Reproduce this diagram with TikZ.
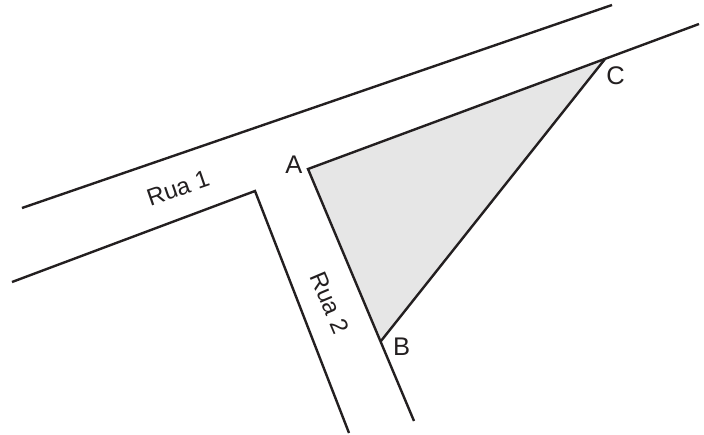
\documentclass[tikz,border=0pt]{standalone}
\usepackage{fontspec}
\setmainfont{Liberation Sans}
\definecolor{ink}{HTML}{231F20}
\definecolor{lot}{HTML}{E6E6E6}
\tikzset{road/.style={draw=ink,line width=2.4pt,line join=miter},
lab/.style={font=\fontsize{24}{28}\selectfont,text=ink,inner sep=0pt},
caplab/.style={font=\fontsize{25.5}{28}\selectfont,text=ink,inner sep=0pt}}
\begin{document}
\begin{tikzpicture}[x=1pt,y=-1pt]
\useasboundingbox (0,0) rectangle (704,434);
\coordinate (A) at (308,169);
\coordinate (B) at (381,341);
\coordinate (C) at (605,59);
\coordinate (r1a) at (22,208);
\coordinate (r1b) at (612,5);
\coordinate (r2a) at (12,282);
\coordinate (r2c) at (255,191);
\coordinate (r2d) at (349,433);
\coordinate (Ce) at (699,24);
\coordinate (Be) at (414,421);
\fill[lot] (A) -- (B) -- (C) -- cycle;
\draw[road] (r1a) -- (r1b);
\draw[road] (r2a) -- (r2c) -- (r2d);
\draw[road] (Be) -- (A) -- (Ce);
\draw[road] (B) -- (C);
\node[caplab] (la) at (294,165) {A};
\node[caplab] (lb) at (401.5,347) {B};
\node[caplab] (lc) at (615.5,76) {C};
\node[lab,rotate=19] (r1) at (178,188) {Rua 1};
\node[lab,rotate=-67] (r2) at (330,303) {Rua 2};
\end{tikzpicture}
\end{document}
